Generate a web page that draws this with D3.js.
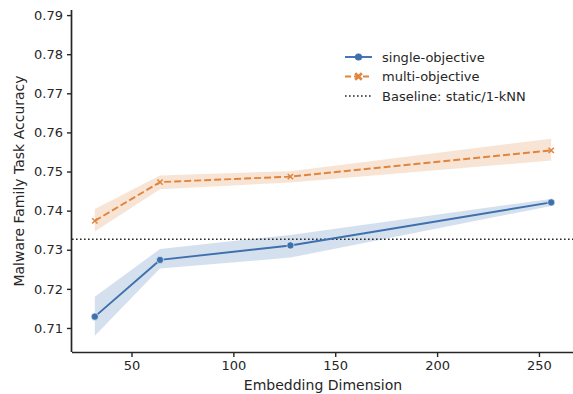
<!DOCTYPE html>
<html><head><meta charset="utf-8">
<script src="https://cdn.jsdelivr.net/npm/d3@7"></script>
<style>body{margin:0;background:#fff;} svg{display:block;font-family:"DejaVu Sans",sans-serif;}</style>
</head><body>
<svg id="c" width="573" height="394"></svg>
<script>
const dims = [32, 64, 128, 256];
const singleMean = [0.7129, 0.7274, 0.7311, 0.7421];
const singleLow  = [0.7080, 0.7252, 0.7280, 0.7412];
const singleHigh = [0.7180, 0.7302, 0.7338, 0.7430];
const multiMean  = [0.7374, 0.7473, 0.7487, 0.7554];
const multiLow   = [0.7347, 0.7455, 0.7472, 0.7528];
const multiHigh  = [0.7404, 0.7490, 0.7501, 0.7584];
const baseline = 0.7327;
const xTicks = [50, 100, 150, 200, 250];
const yTicks = [0.71, 0.72, 0.73, 0.74, 0.75, 0.76, 0.77, 0.78, 0.79];
const seriesNames = ["single-objective", "multi-objective", "Baseline: static/1-kNN"];

const blue = "#3d70ad", orange = "#e1843c", ink = "#262626";
const svg = d3.select("#c");
const L = 72, R = 574, T = 10, B = 352;
const x = d3.scaleLinear().domain([20.8, 267.2]).range([L, R]);
const y = d3.scaleLinear().domain([0.70386, 0.7913]).range([B, T]);

function band(lo, hi, col) {
  const a = d3.area().x((d, i) => x(dims[i])).y0((d, i) => y(lo[i])).y1((d, i) => y(hi[i]));
  svg.append("path").attr("d", a(dims)).attr("fill", col).attr("fill-opacity", 0.22).attr("stroke", "none");
}
band(singleLow, singleHigh, blue);
band(multiLow, multiHigh, orange);

svg.append("line").attr("x1", L).attr("x2", R).attr("y1", y(baseline)).attr("y2", y(baseline))
  .attr("stroke", ink).attr("stroke-width", 1.6).attr("stroke-dasharray", "1.6,2.4");

const line = vals => d3.line().x((d, i) => x(dims[i])).y((d, i) => y(vals[i]))(dims);
svg.append("path").attr("d", line(singleMean)).attr("fill", "none").attr("stroke", blue).attr("stroke-width", 1.9);
svg.append("path").attr("d", line(multiMean)).attr("fill", "none").attr("stroke", orange).attr("stroke-width", 1.9).attr("stroke-dasharray", "7,3");

const xSym = d3.symbol().type(d3.symbolX).size(20);
dims.forEach((d, i) => {
  svg.append("circle").attr("cx", x(d)).attr("cy", y(singleMean[i])).attr("r", 3.6).attr("fill", blue).attr("stroke", "#fff").attr("stroke-width", 0.6);
  svg.append("path").attr("d", xSym()).attr("transform", `translate(${x(d)},${y(multiMean[i])})`)
    .attr("fill", "none").attr("stroke", orange).attr("stroke-width", 1.5);
});

// axes
const xa = svg.append("g").attr("transform", `translate(0,${B})`)
  .call(d3.axisBottom(x).tickValues(xTicks).tickSize(5).tickPadding(4).tickFormat(d3.format("d")));
const ya = svg.append("g").attr("transform", `translate(${L},0)`)
  .call(d3.axisLeft(y).tickValues(yTicks).tickSize(5).tickPadding(4).tickFormat(d3.format(".2f")));
[xa, ya].forEach(g => {
  g.select(".domain").attr("stroke", ink).attr("stroke-width", 1.7);
  g.selectAll(".tick line").attr("stroke", ink).attr("stroke-width", 1.4);
  g.selectAll(".tick text").attr("fill", ink).style("font-size", "13px").style("font-family", "DejaVu Sans");
});
xa.select(".domain").attr("d", `M${L},0.5H${R}`);
ya.select(".domain").attr("d", `M-0.5,${T}V${B}`);

svg.append("text").attr("x", (L + R) / 2).attr("y", 390).attr("text-anchor", "middle")
  .attr("fill", ink).style("font-size", "14px").text("Embedding Dimension");
svg.append("text").attr("transform", `translate(24,${(T + B) / 2}) rotate(-90)`).attr("text-anchor", "middle")
  .attr("fill", ink).style("font-size", "14px").text("Malware Family Task Accuracy");

// legend
const lg = svg.append("g");
const ly = [57, 76.5, 96];
const lx0 = 345, lx1 = 372;
lg.append("line").attr("x1", lx0).attr("x2", lx1).attr("y1", ly[0]).attr("y2", ly[0]).attr("stroke", blue).attr("stroke-width", 1.9);
lg.append("circle").attr("cx", (lx0 + lx1) / 2).attr("cy", ly[0]).attr("r", 3.6).attr("fill", blue);
lg.append("line").attr("x1", lx0).attr("x2", lx1).attr("y1", ly[1]).attr("y2", ly[1]).attr("stroke", orange).attr("stroke-width", 1.9).attr("stroke-dasharray", "6,3");
lg.append("path").attr("d", d3.symbol().type(d3.symbolX).size(30)()).attr("transform", `translate(${(lx0 + lx1) / 2},${ly[1]})`).attr("fill", "none").attr("stroke", orange).attr("stroke-width", 2.6);
lg.append("line").attr("x1", lx0).attr("x2", lx1).attr("y1", ly[2]).attr("y2", ly[2]).attr("stroke", ink).attr("stroke-width", 1.6).attr("stroke-dasharray", "1.6,2.4");
seriesNames.forEach((n, i) => {
  lg.append("text").attr("x", 382).attr("y", ly[i]).attr("dy", "0.35em").attr("fill", ink).style("font-size", "13px").text(n);
});
</script>
</body></html>
